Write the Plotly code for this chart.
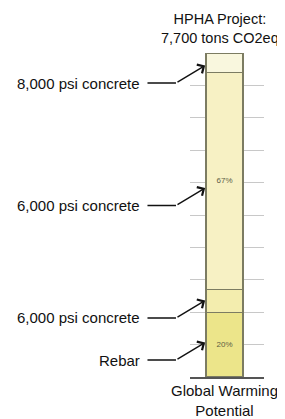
import plotly.graph_objects as go

components = ["Rebar", "6,000 psi concrete", "6,000 psi concrete", "8,000 psi concrete"]
shares = [20, 7, 67, 6]
pct_labels = ["20%", "", "67%", ""]
title_lines = ["HPHA Project:", "7,700 tons CO2eq"]
category_lines = ["Global Warming", "Potential"]

# where, within each segment, the pointer arrow lands (fraction of segment height)
arrow_frac = [0.54, 0.54, 0.47, 0.38]
colors = ["#ece58a", "#f3edae", "#f7f1c4", "#f9f7de"]
FONT = "Arial"

fig = go.Figure()
for name, val, lab, col in zip(components, shares, pct_labels, colors):
    fig.add_trace(go.Bar(
        x=[0], y=[val], name=name, width=0.5,
        marker=dict(color=col, line=dict(color="#7c7c62", width=1.3)),
        text=[lab], textposition="inside", insidetextanchor="middle",
        textfont=dict(size=8, color="#5c5c44", family=FONT),
        hoverinfo="skip", showlegend=False,
    ))

bar_left = -0.25
cum = 0
for name, val, frac in zip(components, shares, arrow_frac):
    tip = cum + val * frac
    cum += val
    # diagonal arrow to the bar
    fig.add_annotation(x=bar_left, y=tip, xref="x", yref="y", text="",
                       showarrow=True, ax=-30, ay=18, axref="pixel", ayref="pixel",
                       arrowhead=4, arrowsize=1.4, arrowwidth=1.4, arrowcolor="#111111",
                       standoff=1)
    # horizontal leader
    fig.add_annotation(x=bar_left, y=tip, xref="x", yref="y", text="",
                       showarrow=True, ax=-30, ay=0, axref="pixel", ayref="pixel",
                       xshift=-30, yshift=-18,
                       arrowhead=0, arrowwidth=1.4, arrowcolor="#111111")
    fig.add_annotation(x=bar_left, y=tip, xref="x", yref="y", text=name,
                       showarrow=False, xanchor="right", yanchor="middle",
                       xshift=-64, yshift=-18,
                       font=dict(size=15, color="#111111", family=FONT))

fig.add_annotation(x=0, y=1, xref="x", yref="paper", text="<br>".join(title_lines),
                   showarrow=False, xanchor="center", yanchor="bottom",
                   xshift=-4, yshift=5,
                   font=dict(size=14.5, color="#111111", family=FONT))
fig.add_annotation(x=0, y=0, xref="x", yref="paper", text="<br>".join(category_lines),
                   showarrow=False, xanchor="center", yanchor="top", yshift=-3,
                   font=dict(size=15, color="#111111", family=FONT))

fig.update_layout(
    width=277, height=411, barmode="stack",
    margin=dict(l=182, r=21, t=45, b=42),
    paper_bgcolor="white", plot_bgcolor="white",
    font=dict(family=FONT),
)
fig.update_xaxes(range=[-0.466, 0.534], showticklabels=False, showgrid=False,
                 zeroline=False, showline=True, linecolor="#555555", linewidth=1.5,
                 ticks="")
fig.update_yaxes(range=[0, 100], dtick=10, showticklabels=False, showgrid=True,
                 gridcolor="#c8c8c8", gridwidth=1, zeroline=False, showline=False,
                 ticks="")

fig.write_html("out.html")
